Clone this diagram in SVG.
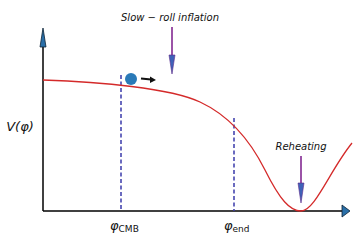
<svg xmlns="http://www.w3.org/2000/svg" width="359" height="242" viewBox="0 0 359 242">
<style>
.axis{stroke:#000;stroke-width:1.5;fill:none}
.head{fill:#2a6fa8;stroke:#0d2233;stroke-width:0.8}
.dash{stroke:#3a3aaa;stroke-width:1.5;stroke-dasharray:4,2.5;fill:none}
.pot{stroke:#d42a2a;stroke-width:1.3;fill:none}
.ind{stroke:#7a1a8a;stroke-width:1.5}
.ihead{fill:#3f62b8;stroke:#5a2a8a;stroke-width:0.6}
.lbl{font-family:"DejaVu Sans",sans-serif;font-size:10px;fill:#111}
.it{font-style:italic}
.big{font-size:13px}
.sub{font-size:9px;font-style:normal}
</style>
<rect width="359" height="242" fill="#fff"/>
<g id="connectors">
<g id="y-axis">
<line class="axis" x1="43" y1="211" x2="43" y2="46"/>
<polygon class="head" points="43,28 40,47 46,47"/>
</g>
<g id="x-axis">
<line class="axis" x1="43" y1="211" x2="342" y2="211"/>
<polygon class="head" points="350,211 342,205 342,217"/>
</g>
<line class="dash" x1="121" y1="75" x2="121" y2="211"/>
<line class="dash" x1="234" y1="118" x2="234" y2="211"/>
</g>
<g id="potential">
<path class="pot" d="M43,80 C100,82 170,88 200,102 C230,116 250,140 265,170 C280,200 290,211 301,211 C315,211 330,170 352,143"/>
</g>
<g id="ball">
<circle cx="131" cy="79" r="6" fill="#2a7ab8"/>
<line x1="141" y1="78.5" x2="151" y2="79.5" stroke="#111" stroke-width="2"/>
<polygon points="156,80 150,76.5 150,83" fill="#111"/>
</g>
<g id="slow-roll">
<text class="lbl it" x="170" y="21" text-anchor="middle">Slow − roll inflation</text>
<line class="ind" x1="172" y1="27" x2="172" y2="56"/>
<polygon class="ihead" points="172,74 169,55 175,55"/>
</g>
<g id="reheating">
<text class="lbl it" x="301" y="150" text-anchor="middle">Reheating</text>
<line class="ind" x1="301" y1="156" x2="301" y2="184"/>
<polygon class="ihead" points="301,203 298,183 304,183"/>
</g>
<g id="labels">
<text class="lbl it big" x="20" y="131" text-anchor="middle">V(φ)</text>
<text class="lbl it big" x="110" y="230">φ<tspan class="sub" dy="1.5">CMB</tspan></text>
<text class="lbl it big" x="224" y="230">φ<tspan class="sub" dy="1.5">end</tspan></text>
</g>
</svg>
